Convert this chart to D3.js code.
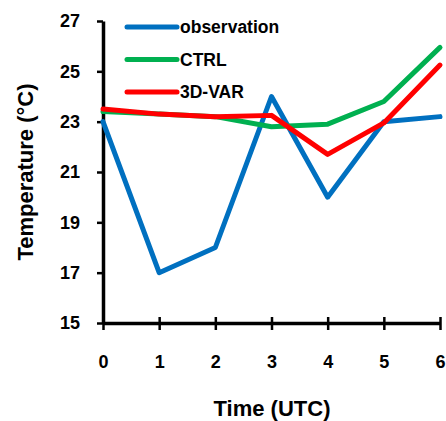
<!DOCTYPE html>
<html>
<head>
<meta charset="utf-8">
<script src="https://cdn.jsdelivr.net/npm/d3@7"></script>
<style>
  body { margin: 0; background: #fff; }
  text { font-family: "Liberation Sans", Arial, sans-serif; font-weight: bold; }
</style>
</head>
<body>
<div id="chart"></div>
<script>
// data
const hours = [0, 1, 2, 3, 4, 5, 6];
const observation = [23, 17, 18, 24, 20, 23, 23.2];
const ctrl = [23.4, 23.3, 23.2, 22.8, 22.9, 23.8, 25.95];
const var3d = [23.5, 23.3, 23.2, 23.25, 21.7, 22.95, 25.25];
const yTicks = [15, 17, 19, 21, 23, 25, 27];

const series = [
  { name: "observation", values: observation, color: "#0070C0" },
  { name: "CTRL", values: ctrl, color: "#00B050" },
  { name: "3D-VAR", values: var3d, color: "#FF0000" }
];

const svg = d3.select("#chart")
  .append("svg")
  .attr("width", 446)
  .attr("height", 421);

const x = d3.scaleLinear()
  .domain([0, 6])
  .range([103, 440]);

const y = d3.scaleLinear()
  .domain([15, 27])
  .range([323, 21]);

// axes
const yAxis = svg.append("g")
  .attr("transform", "translate(103,0)")
  .call(d3.axisLeft(y).tickValues(yTicks).tickFormat(d3.format("d")).tickSize(6).tickSizeOuter(0).tickPadding(17));

const xAxis = svg.append("g")
  .attr("transform", "translate(0,323)")
  .call(d3.axisBottom(x).tickValues(hours).tickFormat(d3.format("d")).tickSize(7).tickSizeOuter(0));

xAxis.selectAll(".tick line").attr("y1", -6);
xAxis.selectAll(".tick text").attr("y", 45).attr("dy", null);

[xAxis, yAxis].forEach(g => {
  g.select(".domain").attr("stroke", "#000").attr("stroke-width", 3.5);
  g.selectAll(".tick line").attr("stroke", "#000").attr("stroke-width", 2.5);
  g.selectAll(".tick text")
    .attr("fill", "#000")
    .style("font-size", "18px")
    .style("font-weight", "bold");
});

// lines
const line = d3.line()
  .x((d, i) => x(hours[i]))
  .y(d => y(d));

svg.selectAll(".series")
  .data(series)
  .enter()
  .append("path")
  .attr("class", "series")
  .attr("d", d => line(d.values))
  .attr("fill", "none")
  .attr("stroke", d => d.color)
  .attr("stroke-width", 5)
  .attr("stroke-linejoin", "round")
  .attr("stroke-linecap", "round");

// legend
const legend = svg.selectAll(".legend")
  .data(series)
  .enter()
  .append("g")
  .attr("class", "legend")
  .attr("transform", (d, i) => `translate(127,${27 + i * 32.5})`);

legend.append("line")
  .attr("x1", 0)
  .attr("x2", 50)
  .attr("stroke", d => d.color)
  .attr("stroke-width", 5)
  .attr("stroke-linecap", "round");

legend.append("text")
  .attr("x", 53)
  .attr("y", 6)
  .style("font-size", "17.5px")
  .text(d => d.name);

// axis titles
svg.append("text")
  .attr("x", 272)
  .attr("y", 416)
  .attr("text-anchor", "middle")
  .style("font-size", "22px")
  .text("Time (UTC)");

svg.append("text")
  .attr("transform", "translate(33,172) rotate(-90)")
  .attr("text-anchor", "middle")
  .style("font-size", "22px")
  .text("Temperature (°C)");
</script>
</body>
</html>
